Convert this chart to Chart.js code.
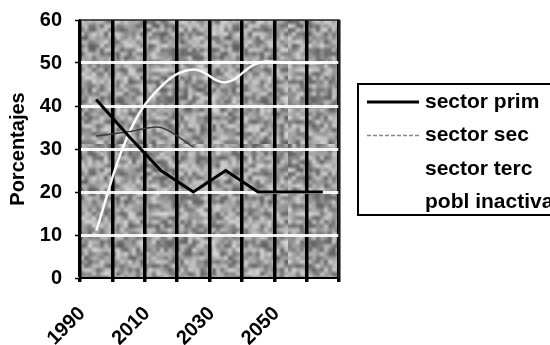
<!DOCTYPE html>
<html>
<head>
<meta charset="utf-8">
<script src="https://cdn.jsdelivr.net/npm/chart.js@4.4.1/dist/chart.umd.min.js"></script>
<style>
  html, body { margin: 0; padding: 0; background: #fff; }
  #wrap { width: 550px; height: 345px; }
</style>
</head>
<body>
<div id="wrap"><canvas id="chart" width="550" height="345"></canvas></div>
<script>
// data
const years = ['1990', '2000', '2010', '2020', '2030', '2040', '2050', '2060'];
const sectorPrim = [41.5, 33, 25, 20, 25, 20, 20, 20];
const sectorSec = [33, 34, 35, 30.5, null, null, null, null];
const sectorTerc = [11, 33.5, 44.5, 48.5, 45.5, 50, 50, 50];
const poblInactiva = [null, null, null, null, null, null, null, null];
const yTicks = [0, 10, 20, 30, 40, 50, 60];

const FONT = 'Liberation Sans, Arial, sans-serif';

// grainy grey fill like the scanned plot area (deterministic, no randomness)
function makeGrain() {
  const n = 36;
  const small = document.createElement('canvas');
  small.width = n; small.height = n;
  const sctx = small.getContext('2d');
  for (let i = 0; i < n; i++) {
    for (let j = 0; j < n; j++) {
      let h = Math.sin(i * 12.9898 + j * 78.233) * 43758.5453;
      h = h - Math.floor(h);
      const g = Math.round(92 + h * 125);
      sctx.fillStyle = `rgb(${g},${g},${g})`;
      sctx.fillRect(i, j, 1, 1);
    }
  }
  const big = document.createElement('canvas');
  big.width = n * 4; big.height = n * 4;
  const bctx = big.getContext('2d');
  bctx.imageSmoothingEnabled = true;
  bctx.drawImage(small, 0, 0, n * 4, n * 4);
  return big;
}

const plotBg = {
  id: 'plotBg',
  beforeDraw(chart) {
    const { ctx, chartArea: a } = chart;
    ctx.save();
    ctx.fillStyle = ctx.createPattern(makeGrain(), 'repeat');
    ctx.fillRect(a.left, a.top, a.right - a.left, a.bottom - a.top);
    ctx.restore();
  },
  afterDatasetsDraw(chart) {
    const { ctx, chartArea: a } = chart;
    ctx.save();
    ctx.strokeStyle = '#222';
    ctx.lineWidth = 1.5;
    ctx.beginPath();
    ctx.moveTo(a.left, a.top);
    ctx.lineTo(a.right, a.top);
    ctx.lineTo(a.right, a.bottom);
    ctx.stroke();
    ctx.restore();
  }
};

// boxed legend on the right, running off the edge like the scan
const boxLegend = {
  id: 'boxLegend',
  afterDraw(chart) {
    const { ctx } = chart;
    ctx.save();
    ctx.strokeStyle = '#000';
    ctx.lineWidth = 2;
    ctx.strokeRect(358, 84, 240, 131);
    ctx.font = 'bold 21px ' + FONT;
    ctx.textBaseline = 'middle';
    ctx.textAlign = 'left';
    chart.data.datasets.forEach((ds, i) => {
      const y = 102 + i * 33.5;
      ctx.strokeStyle = ds.legendColor;
      ctx.lineWidth = ds.borderWidth;
      ctx.setLineDash(ds.legendDash || []);
      ctx.beginPath();
      ctx.moveTo(367, y);
      ctx.lineTo(419, y);
      ctx.stroke();
      ctx.setLineDash([]);
      ctx.fillStyle = '#000';
      ctx.fillText(ds.label, 425, y);
    });
    ctx.restore();
  }
};

new Chart('chart', {
  type: 'line',
  data: {
    labels: years,
    datasets: [
      { label: 'sector prim', data: sectorPrim, borderColor: '#000', legendColor: '#000', borderWidth: 3, tension: 0 },
      { label: 'sector sec', data: sectorSec, borderColor: '#3a3a3a', legendColor: '#888', legendDash: [4, 2], borderWidth: 1.5, tension: 0.3 },
      { label: 'sector terc', data: sectorTerc, borderColor: 'rgba(255,255,255,0.95)', legendColor: '#fff', borderWidth: 2.5, tension: 0.4 },
      { label: 'pobl inactiva', data: poblInactiva, borderColor: '#fff', legendColor: '#fff', borderWidth: 2.5 }
    ]
  },
  options: {
    responsive: false,
    animation: false,
    layout: { padding: { top: 20, right: 211, left: 0, bottom: 0 } },
    elements: { point: { radius: 0 } },
    plugins: { legend: { display: false }, tooltip: { enabled: false } },
    scales: {
      x: {
        offset: true,
        grid: { offset: true, color: '#000', lineWidth: 3.5, tickColor: '#000', tickLength: 4 },
        border: { color: '#000', width: 2 },
        ticks: {
          autoSkip: false,
          minRotation: 45,
          maxRotation: 45,
          labelOffset: -14,
          padding: 20,
          color: '#000',
          font: { family: FONT, size: 20, weight: 'bold' },
          callback: (v, i) => (i % 2 === 0 ? years[i] : '')
        },
        afterFit: (s) => { s.height = 67; s.paddingLeft = 0; s.paddingRight = 0; }
      },
      y: {
        min: 0,
        max: 60,
        afterBuildTicks: (s) => { s.ticks = yTicks.map(v => ({ value: v })); },
        grid: {
          color: (c) => (c.tick.value === 0 || c.tick.value === 60 ? 'rgba(0,0,0,0)' : 'rgba(255,255,255,0.92)'),
          lineWidth: 3,
          tickColor: '#000',
          tickWidth: 1.5,
          tickLength: 5
        },
        border: { color: '#000', width: 2 },
        ticks: { padding: 13, color: '#000', font: { family: FONT, size: 20, weight: 'bold' } },
        title: {
          display: true,
          text: 'Porcentajes',
          color: '#000',
          padding: { top: 6, bottom: 0 },
          font: { family: FONT, size: 20, weight: 'bold' }
        },
        afterFit: (s) => { s.width = 80; s.paddingTop = 0; s.paddingBottom = 0; }
      }
    }
  },
  plugins: [plotBg, boxLegend]
});
</script>
</body>
</html>
